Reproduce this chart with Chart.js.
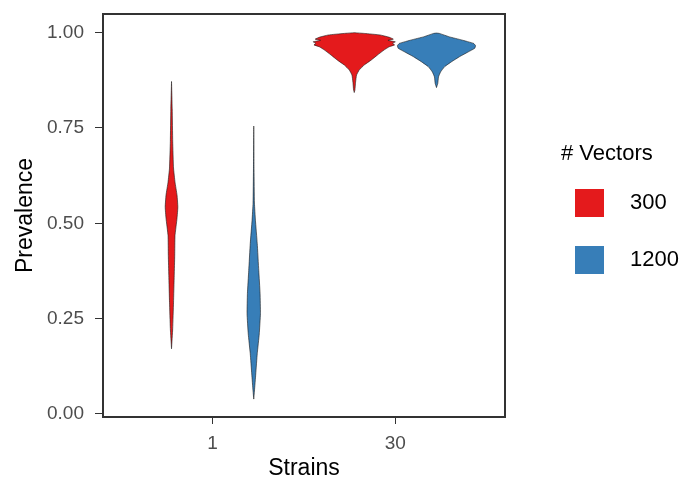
<!DOCTYPE html>
<html>
<head>
<meta charset="utf-8">
<script src="https://cdn.jsdelivr.net/npm/chart.js@4.4.1/dist/chart.umd.min.js"></script>
<style>
  html, body { margin: 0; background: #fff; }
</style>
</head>
<body>
<canvas id="violinChart" width="681" height="480"></canvas>
<script>
// ---------------------------------------------
// Data
// ---------------------------------------------
const strainLabels = ["1", "30"];
const vectorLabels = ["300", "1200"];
const vectorColors = ["#E41A1C", "#377EB8"];
const yTicks = [0, 0.25, 0.5, 0.75, 1];

// prevalence levels (top -> bottom) and scaled density (1 = widest violin)
const red1Y  = [0.872, 0.80, 0.714, 0.645, 0.608, 0.574, 0.543, 0.513, 0.468, 0.416, 0.363, 0.293, 0.224, 0.171];
const red1D  = [0, 0.017, 0.029, 0.049, 0.085, 0.134, 0.154, 0.134, 0.085, 0.078, 0.066, 0.049, 0.029, 0];

const blue1Y = [0.755, 0.64, 0.553, 0.508, 0.447, 0.376, 0.316, 0.263, 0.21, 0.158, 0.105, 0.06, 0.039];
const blue1D = [0, 0.007, 0.017, 0.041, 0.085, 0.122, 0.154, 0.163, 0.134, 0.085, 0.049, 0.017, 0];

const red30Y = [1.0, 0.998, 0.994, 0.988, 0.983, 0.980, 0.976, 0.972, 0.968, 0.963, 0.955, 0.941, 0.928, 0.915, 0.902, 0.889, 0.870, 0.850, 0.843];
const red30D = [0, 0.25, 0.63, 0.85, 0.95, 0.82, 1.0, 0.93, 0.98, 0.85, 0.73, 0.56, 0.41, 0.24, 0.12, 0.056, 0.032, 0.017, 0];

const blue30Y = [0.999, 0.998, 0.989, 0.981, 0.972, 0.966, 0.959, 0.950, 0.937, 0.924, 0.911, 0.897, 0.884, 0.867, 0.856];
const blue30D = [0, 0.073, 0.317, 0.61, 0.9, 0.95, 0.93, 0.78, 0.56, 0.37, 0.2, 0.1, 0.049, 0.032, 0];

// x positions: category 1 / 2, dodged by group
const dodge = 0.225;
const halfWidth = 0.225;

// ---------------------------------------------
// Build violin outlines
// ---------------------------------------------
function violin(center, ys, ds) {
    const right = ys.map((y, i) => ({ x: center + ds[i] * halfWidth, y: y }));
    const left = ys.map((y, i) => ({ x: center - ds[i] * halfWidth, y: y })).reverse();
    return right.concat(left);
}

function violinSet(label, center, ys, ds, color) {
    return {
        label: label,
        data: violin(center, ys, ds),
        showLine: true,
        fill: 'shape',
        backgroundColor: color,
        borderColor: '#1a1a1a',
        borderWidth: 0.6,
        pointRadius: 0,
        tension: 0.12   // non-zero also avoids the fast path that collapses thin shapes
    };
}

const datasets = [
    violinSet(vectorLabels[0], 1 - dodge, red1Y, red1D, vectorColors[0]),
    violinSet(vectorLabels[1], 1 + dodge, blue1Y, blue1D, vectorColors[1]),
    violinSet(vectorLabels[0], 2 - dodge, red30Y, red30D, vectorColors[0]),
    violinSet(vectorLabels[1], 2 + dodge, blue30Y, blue30D, vectorColors[1])
];

// ---------------------------------------------
// Panel border + legend
// ---------------------------------------------
const panelAndLegend = {
    id: 'panelAndLegend',
    afterDraw(chart) {
        const { ctx, chartArea: a } = chart;
        ctx.save();
        ctx.strokeStyle = '#333333';
        ctx.lineWidth = 2;
        ctx.strokeRect(a.left, a.top, a.right - a.left, a.bottom - a.top);

        ctx.fillStyle = '#000';
        ctx.font = '22px "Liberation Sans", Arial, sans-serif';
        ctx.textBaseline = 'alphabetic';
        ctx.fillText('# Vectors', 561, 160);

        ctx.textBaseline = 'middle';
        vectorLabels.forEach((lab, i) => {
            const top = 189 + i * 57;
            ctx.fillStyle = vectorColors[i];
            ctx.fillRect(575, top, 29, 28);
            ctx.fillStyle = '#000';
            ctx.fillText(lab, 630, top + 14);
        });
        ctx.restore();
    }
};

const tickFont = { family: '"Liberation Sans", Arial, sans-serif', size: 19 };
const titleFont = { family: '"Liberation Sans", Arial, sans-serif', size: 23, lineHeight: 1 };

new Chart(document.getElementById('violinChart'), {
    type: 'scatter',
    data: { datasets: datasets },
    options: {
        responsive: false,
        animation: false,
        layout: { padding: { top: 14, right: 176, left: 0, bottom: 0 } },
        plugins: {
            legend: { display: false },
            tooltip: { enabled: false }
        },
        scales: {
            x: {
                type: 'linear',
                min: 0.4,
                max: 2.6,
                afterBuildTicks: s => { s.ticks = [{ value: 1 }, { value: 2 }]; },
                afterFit: s => { s.height = 63; s.paddingLeft = 0; s.paddingRight = 0; },
                ticks: {
                    callback: v => strainLabels[v - 1],
                    font: tickFont,
                    color: '#4d4d4d',
                    padding: 8,
                    maxRotation: 0
                },
                grid: { drawOnChartArea: false, tickLength: 7, color: '#333333' },
                border: { display: false },
                title: { display: true, text: 'Strains', font: titleFont, color: '#000', padding: { top: 0, bottom: 0 } }
            },
            y: {
                type: 'linear',
                min: -0.008,
                max: 1.049,
                afterBuildTicks: s => { s.ticks = yTicks.map(v => ({ value: v })); },
                afterFit: s => { s.width = 103; s.paddingTop = 0; s.paddingBottom = 0; },
                ticks: {
                    callback: v => v.toFixed(2),
                    font: tickFont,
                    color: '#4d4d4d',
                    padding: 11
                },
                grid: { drawOnChartArea: false, tickLength: 8, color: '#333333' },
                border: { display: false },
                title: { display: true, text: 'Prevalence', font: titleFont, color: '#000', padding: { top: 14, bottom: 0 } }
            }
        }
    },
    plugins: [panelAndLegend]
});
</script>
</body>
</html>
